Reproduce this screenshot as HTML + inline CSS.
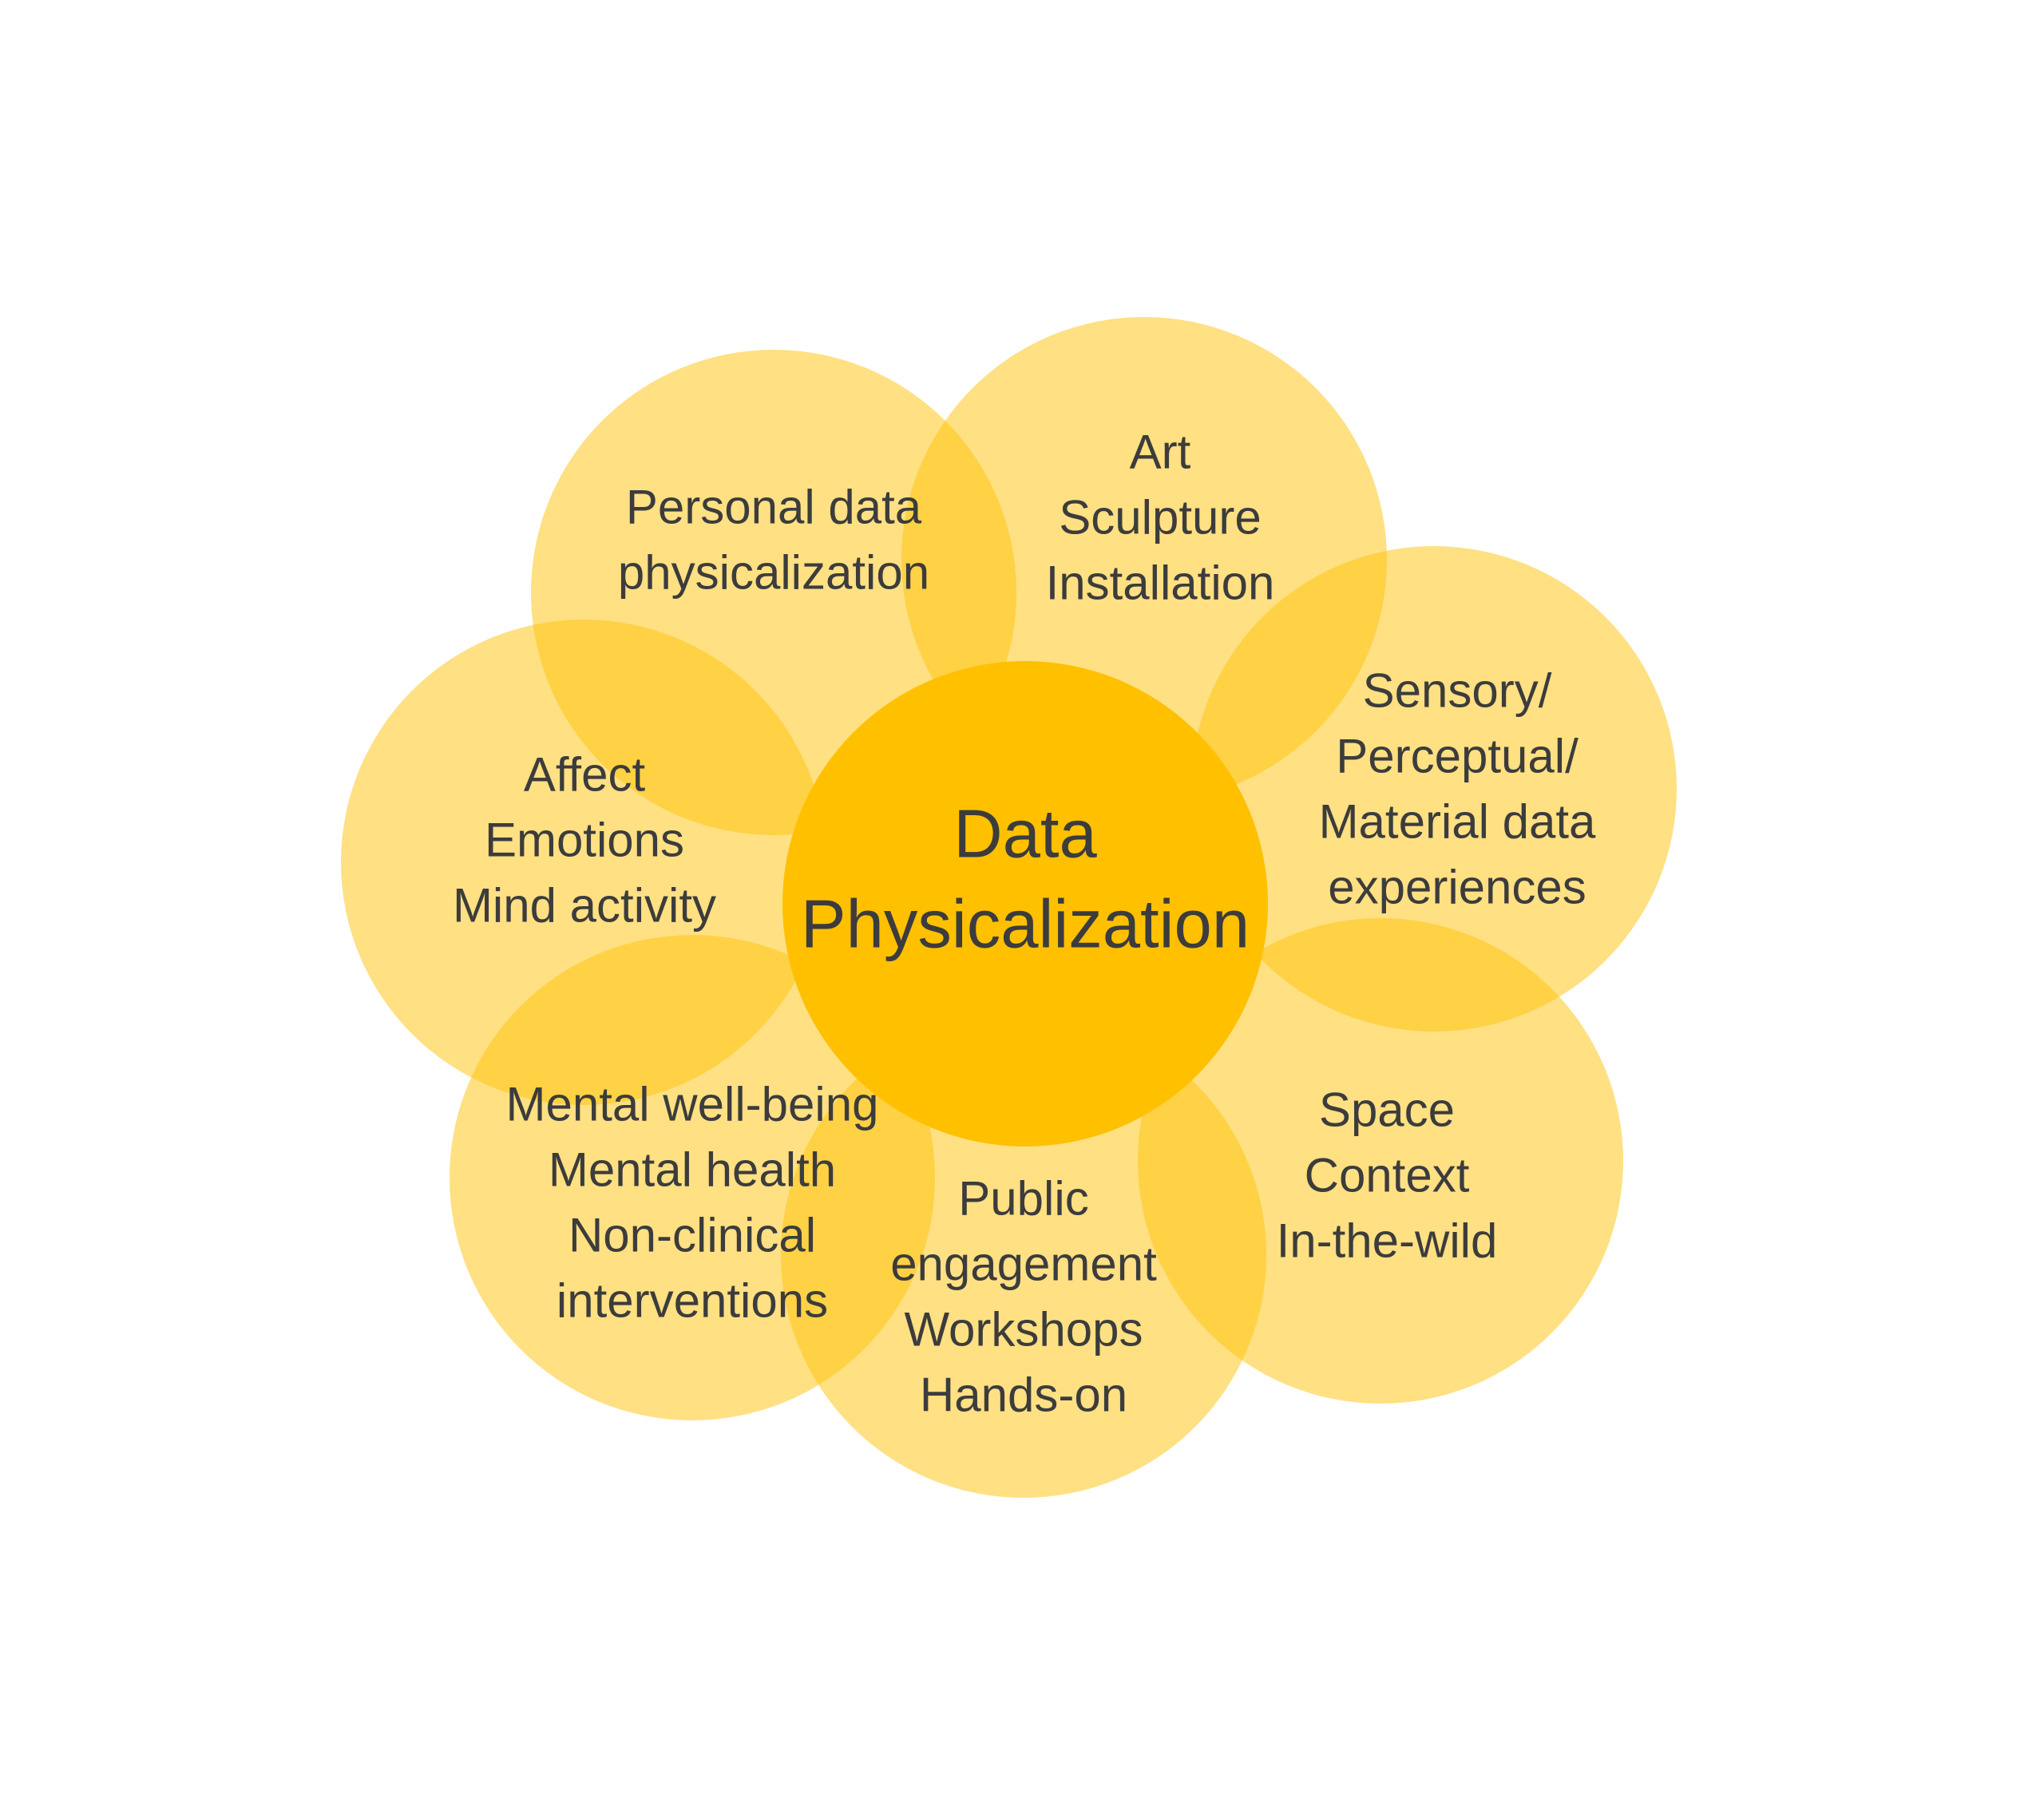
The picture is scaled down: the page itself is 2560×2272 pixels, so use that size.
<!DOCTYPE html>
<html><head><meta charset="utf-8"><style>
html,body{margin:0;padding:0;background:#fff;}
svg{display:block}
text{font-family:"Liberation Sans",sans-serif;fill:#3c3c3c;text-anchor:middle;dominant-baseline:central;}
.o{font-size:60px;}
.c{font-size:85px;}
</style></head><body>
<svg width="2560" height="2272" viewBox="0 0 2560 2272" xmlns="http://www.w3.org/2000/svg">
<rect width="2560" height="2272" fill="#fff"/>
<g transform="translate(-6,-5)">
<g fill="#FFC107" fill-opacity="0.5">
<circle cx="975" cy="747" r="304"/>
<circle cx="1439" cy="706" r="304"/>
<circle cx="1802" cy="993" r="304"/>
<circle cx="1735" cy="1459" r="304"/>
<circle cx="1288" cy="1577" r="304"/>
<circle cx="873" cy="1480" r="304"/>
<circle cx="737" cy="1085" r="304"/>
</g>
<circle cx="1290" cy="1137" r="304" fill="#FFC000"/>
<text class="o" x="975" y="640">Personal data</text>
<text class="o" x="975" y="722">physicalization</text>
<text class="o" x="1459" y="571">Art</text>
<text class="o" x="1459" y="653">Sculpture</text>
<text class="o" x="1459" y="735">Installation</text>
<text class="o" x="1831" y="870">Sensory/</text>
<text class="o" x="1831" y="952">Perceptual/</text>
<text class="o" x="1831" y="1034">Material data</text>
<text class="o" x="1831" y="1116">experiences</text>
<text class="o" x="738" y="975">Affect</text>
<text class="o" x="738" y="1057">Emotions</text>
<text class="o" x="738" y="1139">Mind activity</text>
<text class="c" x="1290" y="1050">Data</text>
<text class="c" x="1290" y="1163">Physicalization</text>
<text class="o" x="873" y="1388">Mental well-being</text>
<text class="o" x="873" y="1470">Mental health</text>
<text class="o" x="873" y="1552">Non-clinical</text>
<text class="o" x="873" y="1634">interventions</text>
<text class="o" x="1288" y="1506">Public</text>
<text class="o" x="1288" y="1588">engagement</text>
<text class="o" x="1288" y="1670">Workshops</text>
<text class="o" x="1288" y="1752">Hands-on</text>
<text class="o" x="1743" y="1395">Space</text>
<text class="o" x="1743" y="1477">Context</text>
<text class="o" x="1743" y="1559">In-the-wild</text>
</g>
</svg>
</body></html>
